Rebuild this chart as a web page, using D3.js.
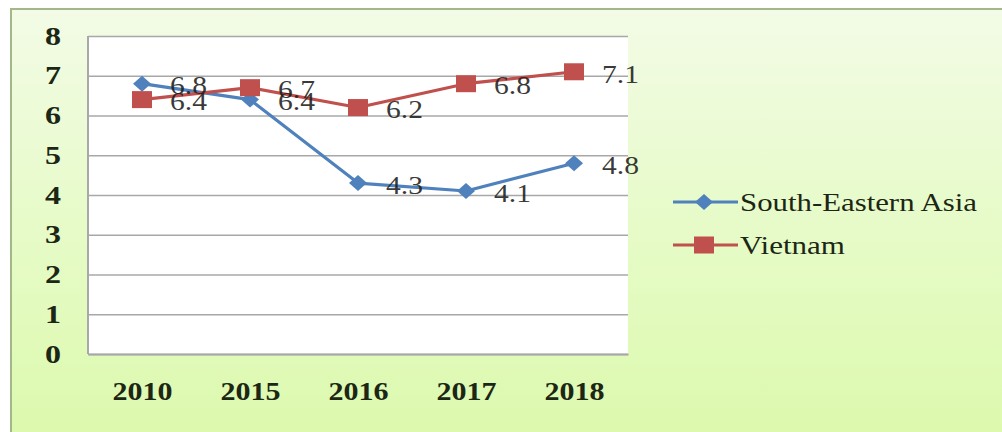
<!DOCTYPE html>
<html>
<head>
<meta charset="utf-8">
<script src="https://cdn.jsdelivr.net/npm/d3@7"></script>
<style>
  html, body { margin: 0; padding: 0; background: #ffffff; }
  svg { display: block; }
</style>
</head>
<body>
<div id="chart"></div>
<script>
// Growth rates, 2010–2018
const years = ["2010", "2015", "2016", "2017", "2018"];
const seAsia = [6.8, 6.4, 4.3, 4.1, 4.8];
const vietnam = [6.4, 6.7, 6.2, 6.8, 7.1];
const yTicks = [0, 1, 2, 3, 4, 5, 6, 7, 8];
const seriesNames = ["South-Eastern Asia", "Vietnam"];

const W = 1002, H = 432;
const plot = { left: 88, right: 628, top: 36, bottom: 354 };
const serif = "\"Liberation Serif\"";

const svg = d3.select("#chart").append("svg")
  .attr("width", W).attr("height", H);

// Soft green panel behind the chart
const defs = svg.append("defs");
const grad = defs.append("linearGradient")
  .attr("id", "panelFill").attr("x1", 0).attr("y1", 0).attr("x2", 0).attr("y2", 1);
grad.append("stop").attr("offset", "0%").attr("stop-color", "#f3fbe6");
grad.append("stop").attr("offset", "45%").attr("stop-color", "#e7fbca");
grad.append("stop").attr("offset", "100%").attr("stop-color", "#dbf9aa");

svg.append("rect")
  .attr("x", 11).attr("y", 9).attr("width", W + 20).attr("height", H + 20)
  .attr("fill", "url(#panelFill)")
  .attr("stroke", "#a2b888").attr("stroke-width", 2);

// Plot area
svg.append("rect")
  .attr("x", plot.left).attr("y", plot.top)
  .attr("width", plot.right - plot.left).attr("height", plot.bottom - plot.top)
  .attr("fill", "#ffffff");

const x = d3.scalePoint().domain(years).range([plot.left, plot.right]).padding(0.5);
const y = d3.scaleLinear().domain([0, 8]).range([plot.bottom, plot.top]);

// Horizontal gridlines with value labels
const yAxis = svg.append("g")
  .attr("transform", `translate(${plot.left},0)`)
  .call(d3.axisLeft(y).tickValues(yTicks).tickSize(-(plot.right - plot.left)).tickPadding(35));
yAxis.attr("font-family", null);
yAxis.select(".domain").remove();
yAxis.selectAll(".tick line").attr("stroke", "#a8a8a8").attr("stroke-width", 1.6);
yAxis.selectAll(".tick text")
  .style("font-family", serif).style("font-weight", "bold").style("font-size", "25px")
  .attr("fill", "#1c2614").attr("text-anchor", "middle").attr("dx", 0)
  .attr("textLength", 16).attr("lengthAdjust", "spacingAndGlyphs");

// Left axis line
svg.append("line")
  .attr("x1", plot.left).attr("x2", plot.left)
  .attr("y1", plot.top).attr("y2", plot.bottom)
  .attr("stroke", "#a8a8a8").attr("stroke-width", 2);

// Category axis labels
const xAxis = svg.append("g")
  .attr("transform", `translate(0,${plot.bottom})`)
  .call(d3.axisBottom(x).tickSize(0).tickPadding(28));
xAxis.attr("font-family", null);
xAxis.select(".domain").attr("stroke", "#a8a8a8").attr("stroke-width", 2);
xAxis.selectAll(".tick text")
  .style("font-family", serif).style("font-weight", "bold").style("font-size", "26px")
  .attr("fill", "#1c2614")
  .attr("textLength", 60).attr("lengthAdjust", "spacingAndGlyphs");

const series = [
  { name: seriesNames[0], values: seAsia, color: "#4f81bd", marker: "diamond" },
  { name: seriesNames[1], values: vietnam, color: "#c0504d", marker: "square" }
];

const line = d3.line().x((d, i) => x(years[i])).y(d => y(d));

function drawMarker(g, type, color) {
  if (type === "diamond") {
    g.append("path").attr("d", "M0,-8 L9,0 L0,8 L-9,0 Z").attr("fill", color);
  } else {
    g.append("rect").attr("x", -10).attr("y", -8.5).attr("width", 20).attr("height", 17)
      .attr("fill", color);
  }
}

series.forEach(s => {
  svg.append("path")
    .datum(s.values)
    .attr("d", line)
    .attr("fill", "none")
    .attr("stroke", s.color)
    .attr("stroke-width", 3.2)
    .attr("stroke-linejoin", "round");
});

series.forEach(s => {
  s.values.forEach((v, i) => {
    const g = svg.append("g").attr("transform", `translate(${x(years[i])},${y(v)})`);
    drawMarker(g, s.marker, s.color);
  });
});

// Value labels to the right of each point
series.forEach(s => {
  s.values.forEach((v, i) => {
    svg.append("text")
      .attr("x", x(years[i]) + 28)
      .attr("y", y(v) + 2)
      .attr("dy", "0.35em")
      .style("font-family", serif).style("font-size", "25px")
      .attr("fill", "#1e1e1e").attr("fill-opacity", 0.9)
      .attr("textLength", 37).attr("lengthAdjust", "spacingAndGlyphs")
      .text(v.toFixed(1));
  });
});

// Legend
const legend = svg.append("g");
const legendRows = [202, 245];
const legendWidths = [237, 105];
series.forEach((s, i) => {
  const row = legend.append("g").attr("transform", `translate(0,${legendRows[i]})`);
  row.append("line").attr("x1", 673).attr("x2", 738).attr("y1", 0).attr("y2", 0)
    .attr("stroke", s.color).attr("stroke-width", 3.2);
  const m = row.append("g").attr("transform", `translate(704,0)`);
  drawMarker(m, s.marker, s.color);
  row.append("text")
    .attr("x", 740).attr("y", 0).attr("dy", "0.35em")
    .style("font-family", serif).style("font-size", "26px")
    .attr("fill", "#1c2614")
    .attr("textLength", legendWidths[i]).attr("lengthAdjust", "spacingAndGlyphs")
    .text(s.name);
});
</script>
</body>
</html>
